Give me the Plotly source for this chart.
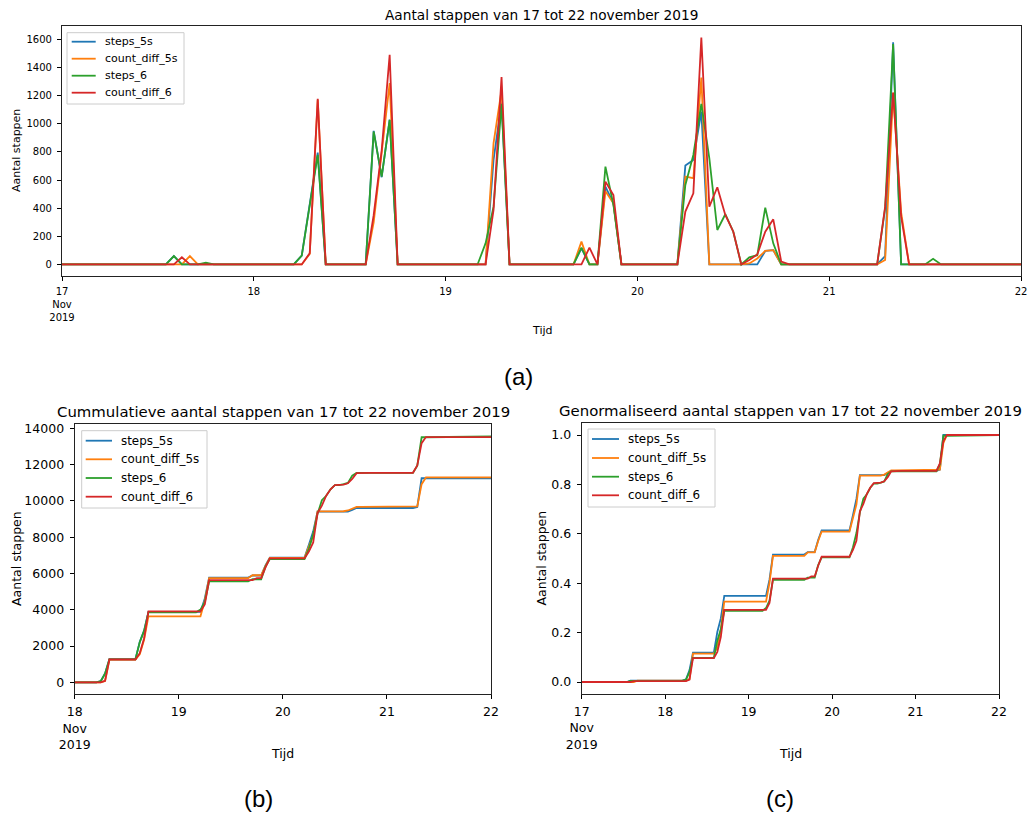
import numpy as np
import pandas as pd
import plotly.graph_objects as go

W, H = 1030, 814

# ---------------- data: hourly step counts, 17 Nov 2019 00:00 .. 22 Nov 2019 00:00 ----------------
steps_5s = [
    0, 0, 0, 0, 0, 0, 0, 0, 0, 0, 0, 0, 0, 0, 60, 0, 0, 0, 0, 0, 0, 0, 0, 0,            # 17 Nov
    0, 0, 0, 0, 0, 0, 63, 421, 795, 0, 0, 0, 0, 0, 0, 950, 620, 1030, 0, 0, 0, 0, 0, 0,  # 18 Nov
    0, 0, 0, 0, 0, 0, 743, 1150, 0, 0, 0, 0, 0, 0, 0, 0, 0, 115, 0, 0, 553, 435, 0, 0,   # 19 Nov
    0, 0, 0, 0, 0, 0, 703, 743, 1087, 0, 0, 0, 0, 0, 0, 0, 96, 102, 0, 0, 0, 0, 0, 0,    # 20 Nov
    0, 0, 0, 0, 0, 0, 0, 60, 1580, 0, 0, 0, 0, 0, 0, 0, 0, 0, 0, 0, 0, 0, 0, 0,          # 21 Nov
    0,                                                                                  # 22 Nov
]
count_diff_5s = [
    0, 0, 0, 0, 0, 0, 0, 0, 0, 0, 0, 0, 0, 0, 0, 0, 60, 0, 0, 0, 0, 0, 0, 0,
    0, 0, 0, 0, 0, 0, 0, 75, 1170, 0, 0, 0, 0, 0, 0, 300, 800, 1290, 0, 0, 0, 0, 0, 0,
    0, 0, 0, 0, 0, 0, 863, 1240, 0, 0, 0, 0, 0, 0, 0, 0, 0, 162, 0, 0, 520, 435, 0, 0,
    0, 0, 0, 0, 0, 0, 625, 613, 1328, 0, 0, 0, 0, 0, 7, 43, 96, 102, 0, 0, 0, 0, 0, 0,
    0, 0, 0, 0, 0, 0, 0, 32, 1220, 370, 0, 0, 0, 0, 0, 0, 0, 0, 0, 0, 0, 0, 0, 0,
    0,
]
steps_6 = [
    0, 0, 0, 0, 0, 0, 0, 0, 0, 0, 0, 0, 0, 0, 60, 0, 0, 0, 12, 0, 0, 0, 0, 0,
    0, 0, 0, 0, 0, 0, 63, 421, 779, 0, 0, 0, 0, 0, 0, 944, 624, 1027, 0, 0, 0, 0, 0, 0,
    0, 0, 0, 0, 0, 150, 411, 1140, 0, 0, 0, 0, 0, 0, 0, 0, 0, 120, 0, 0, 695, 423, 0, 0,
    0, 0, 0, 0, 0, 0, 565, 778, 1141, 755, 245, 357, 233, 0, 51, 66, 404, 150, 0, 0, 0, 0, 0, 0,
    0, 0, 0, 0, 0, 0, 0, 400, 1566, 0, 0, 0, 0, 40, 0, 0, 0, 0, 0, 0, 0, 0, 0, 0,
    0,
]
count_diff_6 = [
    0, 0, 0, 0, 0, 0, 0, 0, 0, 0, 0, 0, 0, 0, 0, 51, 0, 0, 0, 0, 0, 0, 0, 0,
    0, 0, 0, 0, 0, 0, 0, 80, 1177, 0, 0, 0, 0, 0, 0, 350, 810, 1490, 0, 0, 0, 0, 0, 0,
    0, 0, 0, 0, 0, 0, 388, 1332, 0, 0, 0, 0, 0, 0, 0, 0, 0, 0, 120, 0, 589, 494, 0, 0,
    0, 0, 0, 0, 0, 0, 376, 506, 1613, 411, 549, 352, 233, 0, 31, 71, 233, 321, 20, 0, 0, 0, 0, 0,
    0, 0, 0, 0, 0, 0, 0, 411, 1222, 340, 0, 0, 0, 0, 0, 0, 0, 0, 0, 0, 0, 0, 0, 0,
    0,
]

series_names = ["steps_5s", "count_diff_5s", "steps_6", "count_diff_6"]
series_values = [steps_5s, count_diff_5s, steps_6, count_diff_6]
colors = ["#1f77b4", "#ff7f0e", "#2ca02c", "#d62728"]

start_time = "2019-11-17 00:00"
day_ticks_a = ["2019-11-17", "2019-11-18", "2019-11-19", "2019-11-20", "2019-11-21", "2019-11-22"]
day_labels_a = ["17<br>Nov<br>2019", "18", "19", "20", "21", "22"]
day_ticks_b = ["2019-11-18", "2019-11-19", "2019-11-20", "2019-11-21", "2019-11-22"]
day_labels_b = ["18<br>Nov<br>2019", "19", "20", "21", "22"]
yticks_a = [0, 200, 400, 600, 800, 1000, 1200, 1400, 1600]
yticks_b = [0, 2000, 4000, 6000, 8000, 10000, 12000, 14000]
yticks_c = [0.0, 0.2, 0.4, 0.6, 0.8, 1.0]

title_a = "Aantal stappen van 17 tot 22 november 2019"
title_b = "Cummulatieve aantal stappen van 17 tot 22 november 2019"
title_c = "Genormaliseerd aantal stappen van 17 tot 22 november 2019"

times = pd.date_range(start_time, periods=len(steps_5s), freq="h")
start_b = 24  # cumulative plot (b) starts on 18 Nov

# ---------------- helpers ----------------
def px(x):
    return x / W

def py(y):
    return 1 - y / H

FONT = "DejaVu Sans"
fig = go.Figure()

for name, vals, col in zip(series_names, series_values, colors):
    v = np.array(vals, dtype=float)
    fig.add_trace(go.Scatter(x=times, y=v, mode="lines", name=name,
                             line=dict(color=col, width=1.8), xaxis="x", yaxis="y",
                             showlegend=False))
    cb = np.cumsum(v[start_b:])
    fig.add_trace(go.Scatter(x=times[start_b:], y=cb, mode="lines", name=name,
                             line=dict(color=col, width=1.8), xaxis="x2", yaxis="y2",
                             showlegend=False))
    cc = np.cumsum(v) / v.sum()
    fig.add_trace(go.Scatter(x=times, y=cc, mode="lines", name=name,
                             line=dict(color=col, width=1.8), xaxis="x3", yaxis="y3",
                             showlegend=False))

def xaxis(dom, rng, tv, tt, fs, anchor):
    return dict(domain=[px(dom[0]), px(dom[1])], range=rng, type="date", anchor=anchor,
                tickmode="array", tickvals=tv, ticktext=tt, automargin=False,
                tickfont=dict(family=FONT, size=fs, color="black"),
                ticks="outside", ticklen=4, tickcolor="black", tickwidth=1,
                ticklabelstandoff=2,
                showline=True, mirror=True, linecolor="#222", linewidth=1.2,
                showgrid=False, zeroline=False)

def yaxis(dom, rng, tv, fs, fmt, anchor):
    return dict(domain=[py(dom[1]), py(dom[0])], range=rng, anchor=anchor,
                tickmode="array", tickvals=tv, tickformat=fmt, automargin=False,
                tickfont=dict(family=FONT, size=fs, color="black"),
                ticks="outside", ticklen=4, tickcolor="black", tickwidth=1,
                ticklabelstandoff=3,
                showline=True, mirror=True, linecolor="#222", linewidth=1.2,
                showgrid=False, zeroline=False)

fig.update_layout(
    width=W, height=H, margin=dict(l=0, r=0, t=0, b=0, autoexpand=False),
    paper_bgcolor="white", plot_bgcolor="white",
    font=dict(family=FONT, color="black"),
    xaxis=xaxis((62, 1021), ["2019-11-17", "2019-11-22"], day_ticks_a, day_labels_a, 10, "y"),
    yaxis=yaxis((26, 276), [-82, 1695], yticks_a, 10, "d", "x"),
    xaxis2=xaxis((74.7, 491), ["2019-11-18", "2019-11-22"], day_ticks_b, day_labels_b, 12.5, "y2"),
    yaxis2=yaxis((424, 694.3), [-661, 14237], yticks_b, 12.5, "d", "x2"),
    xaxis3=xaxis((581.7, 999), ["2019-11-17", "2019-11-22"], day_ticks_a, day_labels_a, 12.5, "y3"),
    yaxis3=yaxis((422.7, 694), [-0.0486, 1.0498], yticks_c, 12.5, ".1f", "x3"),
)

annotations = []
shapes = []

def text(t, x, y, size, angle=0, family=FONT, xanchor="center"):
    annotations.append(dict(text=t, x=px(x), y=py(y), xref="paper", yref="paper",
                            showarrow=False, xanchor=xanchor, yanchor="middle",
                            textangle=angle, font=dict(family=family, size=size, color="black")))

# titles
text(title_a, 541.5, 15, 13.7)
text(title_b, 283, 412, 14.9)
text(title_c, 790.5, 410.5, 14.9)
# axis titles
text("Aantal stappen", 16, 151, 11, angle=-90)
text("Tijd", 541.5, 330, 11)
text("Aantal stappen", 16, 559, 12.5, angle=-90)
text("Tijd", 282.5, 753, 12.5)
text("Aantal stappen", 541, 558.5, 12.5, angle=-90)
text("Tijd", 790.5, 753, 12.5)
# captions
text("(a)", 518, 376, 24, family="Liberation Sans")
text("(b)", 258, 798, 24, family="Liberation Sans")
text("(c)", 780, 798, 24, family="Liberation Sans")

def legend(box, ys, lx, tx, fs):
    x0, y0, x1, y1 = box
    shapes.append(dict(type="rect", xref="paper", yref="paper",
                       x0=px(x0), x1=px(x1), y0=py(y1), y1=py(y0),
                       line=dict(color="#cccccc", width=1), fillcolor="rgba(255,255,255,0.8)",
                       layer="above"))
    for name, col, yy in zip(series_names, colors, ys):
        shapes.append(dict(type="line", xref="paper", yref="paper",
                           x0=px(lx[0]), x1=px(lx[1]), y0=py(yy), y1=py(yy),
                           line=dict(color=col, width=1.8), layer="above"))
        text(name, tx, yy, fs, xanchor="left")

legend((67, 32.7, 184, 104), [41.7, 58.7, 75.7, 92.7], (71.7, 95.7), 102.5, 11)
legend((81.7, 430.7, 207, 508), [440.7, 459.3, 478, 496.7], (85.7, 112), 119, 11.9)
legend((588, 429, 715, 507), [439, 458, 476.7, 495.3], (592, 619), 625.5, 11.9)

fig.update_layout(annotations=annotations, shapes=shapes)
fig.write_html("out.html", config={"displayModeBar": False},
               post_script="document.body.style.margin='0';document.body.style.overflow='hidden';")
